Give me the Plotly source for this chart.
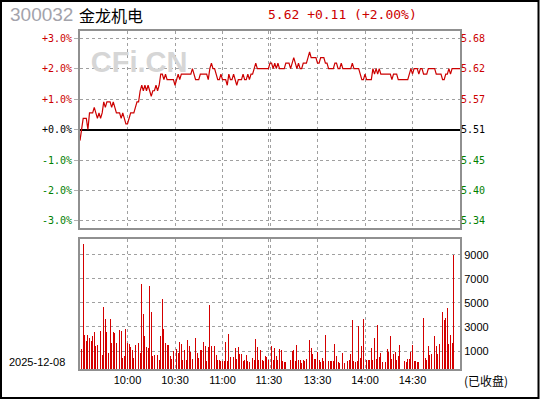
import plotly.graph_objects as go

# ---------------- data ----------------
CODE = "300032"
NAME = "金龙机电"
TRADE_DATE = "2025-12-08"
STATUS = "(已收盘)"
PREV_CLOSE = 5.51

# minute prices, index 0 = 9:30 ... 120 = 11:30/13:00 ... 240 = 15:00
PRICE = [
    5.49, 5.51, 5.53, 5.53, 5.53, 5.51, 5.54, 5.54, 5.54, 5.55,
    5.54, 5.53, 5.54, 5.53, 5.54, 5.56, 5.55, 5.56, 5.56, 5.56,
    5.55, 5.56, 5.55, 5.54, 5.54, 5.54, 5.53, 5.54, 5.53, 5.52,
    5.52, 5.53, 5.54, 5.54, 5.54, 5.55, 5.56, 5.56, 5.58, 5.59,
    5.58, 5.59, 5.58, 5.59, 5.58, 5.57, 5.58, 5.58, 5.59, 5.58,
    5.59, 5.61, 5.61, 5.60, 5.61, 5.60, 5.60, 5.60, 5.60, 5.60,
    5.59, 5.60, 5.61, 5.60, 5.61, 5.61, 5.61, 5.61, 5.61, 5.61,
    5.61, 5.62, 5.61, 5.60, 5.60, 5.60, 5.61, 5.61, 5.61, 5.61,
    5.61, 5.60, 5.62, 5.63, 5.62, 5.62, 5.61, 5.60, 5.60, 5.61,
    5.60, 5.60, 5.60, 5.59, 5.61, 5.60, 5.60, 5.61, 5.60, 5.59,
    5.60, 5.60, 5.60, 5.61, 5.60, 5.60, 5.61, 5.60, 5.61, 5.61,
    5.62, 5.63, 5.62, 5.62, 5.62, 5.62, 5.62, 5.62, 5.62, 5.62,
    5.63, 5.63, 5.62, 5.63, 5.62, 5.63, 5.62, 5.62, 5.62, 5.62,
    5.63, 5.63, 5.63, 5.62, 5.63, 5.64, 5.63, 5.62, 5.63, 5.62,
    5.62, 5.63, 5.63, 5.63, 5.64, 5.65, 5.64, 5.64, 5.64, 5.64,
    5.63, 5.63, 5.64, 5.64, 5.64, 5.63, 5.63, 5.62, 5.62, 5.62,
    5.62, 5.63, 5.63, 5.62, 5.62, 5.63, 5.62, 5.62, 5.62, 5.62,
    5.62, 5.62, 5.63, 5.62, 5.62, 5.62, 5.62, 5.61, 5.60, 5.60,
    5.61, 5.60, 5.60, 5.60, 5.60, 5.62, 5.61, 5.62, 5.61, 5.62,
    5.61, 5.61, 5.61, 5.61, 5.61, 5.61, 5.61, 5.60, 5.61, 5.61,
    5.61, 5.60, 5.60, 5.60, 5.60, 5.60, 5.60, 5.60, 5.61, 5.62,
    5.61, 5.62, 5.62, 5.62, 5.61, 5.62, 5.62, 5.61, 5.61, 5.61,
    5.62, 5.62, 5.62, 5.62, 5.62, 5.61, 5.61, 5.61, 5.61, 5.60,
    5.60, 5.61, 5.61, 5.62, 5.61, 5.62, 5.62, 5.62, 5.62, 5.62,
    5.62,
]

# minute volumes (lots), first bar = 9:31; None = no trade
VOLUME = [
    1170, 9860, 2350, 1830, 2350, 2100, 1830, 2270, 2600, 1440,
    1520, 3320, 2680, 700, 4670, 3680, 2600, 860, 3680, 1690,
    2600, 2460, 1690, 940, 2740, 2680, 450, 610, 2850, 1690,
    1580, 1360, 1110, 450, 1520, 940, 1630, 860, 6580, 4090,
    2270, 1360, 1280, 6410, 4260, 610, 700, 780, 700, 280,
    2270, 5330, 2850, 1690, 1520, 1520, 610, 370, 1030, 860,
    1190, 860, 1770, 1610, 280, 1110, 280, 1940, 1440, 940,
    370, 200, 2100, 860, 450, 1110, 1110, 1770, 1440, 200,
    1360, 4840, 1440, 1030, 1440, 700, 280, 280, 200, 200,
    200, 1770, 200, 2430, 530, 200, 530, 1280, 370, 1360,
    780, 780, 200, 280, 700, 200, 120, 2930, 450, 280,
    2020, 1360, 280, 1110, 280, 200, 610, 530, 280, 1720,
    1440, 280, 1280, 610, 280, 1190, 1110, 200, 120, 120,
    None, 2190, 280, 1030, 1110, 200, 1520, 280, 280, 30,
    280, 200, 370, 2520, 1940, 1280, 780, 370, 370, 940,
    280, 120, 450, 200, 2350, 280, 200, 200, 200, 200,
    1610, 610, 120, 30, None, 860, 30, 120, 200, 280,
    780, 3590, 200, 120, 200, 3100, 450, 1440, 3680, 2430,
    280, 280, 280, 1280, 280, 2100, 370, 3180, 530, 860,
    120, 120, 120, 1190, 940, 2270, 370, 780, 940, 280,
    610, 1520, None, 1030, 200, 120, 370, 370, 940, 1520,
    200, 200, 120, 120, None, 940, 3760, 450, 280, 1440,
    700, 780, None, 2270, 1440, 780, 1610, 610, 4260, 3590,
    3760, 4590, 1610, 2350, 1690, 8980,
]

PCT_TICKS = [3, 2, 1, 0, -1, -2, -3]
VOL_TICKS = [1000, 3000, 5000, 7000, 9000]
TIME_TICKS = [30, 60, 90, 119.3, 120.6, 150, 180, 210]
TIME_LABELS = ["10:00", "10:30", "11:00", "11:30", "", "13:30", "14:00", "14:30"]

# ---------------- styling ----------------
RED = "#cc0000"
GREEN = "#008000"
GRID = "#a0a0a0"
BORDER = "#909090"
PCT_SPAN = 3.23
VOL_MIN, VOL_MAX = -491, 10326

W, H = 540, 400
ML, MR, MT, MB = 80, 80, 31, 31
PW, PH = W - ML - MR, H - MT - MB


def fx(px):
    return (px - ML) / PW


def fy(py):
    return (H - MB - py) / PH


def colored(text, color):
    return f"<span style='color:{color}'>{text}</span>"


def sign_color(k):
    return RED if k > 0 else (GREEN if k < 0 else "black")


minutes = list(range(len(PRICE)))
bar_x = list(range(1, len(VOLUME) + 1))
bar_y = [None if v is None else v - VOL_MIN for v in VOLUME]

fig = go.Figure()

# watermark (beneath the price line)
fig.add_trace(go.Scatter(
    x=[37.3], y=[2.11], mode="text", text=["CFi.CN"],
    textfont=dict(family="Liberation Sans", size=29, color="#d6d6d6", weight="bold"),
    xaxis="x", yaxis="y", hoverinfo="skip", showlegend=False,
))

fig.add_trace(go.Scatter(
    x=minutes, y=PRICE, mode="lines",
    line=dict(color=RED, width=1.2, shape="linear"),
    xaxis="x", yaxis="y3", hoverinfo="skip", showlegend=False,
))

fig.add_trace(go.Bar(
    x=bar_x, y=bar_y, base=VOL_MIN, width=0.55,
    marker=dict(color="#d40000", line=dict(width=0)),
    xaxis="x2", yaxis="y2", hoverinfo="skip", showlegend=False,
))

price_dom = [fy(228), 1]
vol_dom = [0, fy(238.7)]

left_text = [colored(f"{k:+.1f}%", sign_color(k)) for k in PCT_TICKS]
right_vals = [PREV_CLOSE * (1 + k / 100) for k in PCT_TICKS]
right_text = [colored(f"{v:.2f}", sign_color(k)) for v, k in zip(right_vals, PCT_TICKS)]

mono = dict(family="DejaVu Sans Mono", size=10, color="black")
sans = dict(family="Liberation Sans", size=11, color="black")

fig.update_layout(
    width=W, height=H,
    margin=dict(l=ML, r=MR, t=MT, b=MB, autoexpand=False),
    paper_bgcolor="white", plot_bgcolor="white",
    showlegend=False, bargap=0,
    xaxis=dict(
        domain=[0, 1], anchor="y", range=[0, 240],
        tickvals=TIME_TICKS, showticklabels=False, ticks="",
        showgrid=True, gridcolor=GRID, griddash="dot", gridwidth=1,
        showline=True, linecolor=BORDER, linewidth=2, mirror=True,
        zeroline=False, fixedrange=True,
    ),
    yaxis=dict(
        domain=price_dom, anchor="x", range=[-PCT_SPAN, PCT_SPAN],
        tickvals=PCT_TICKS, ticktext=left_text, tickfont=mono,
        ticks="outside", ticklen=4, tickcolor="#b0b0b0", tickwidth=1,
        showgrid=True, gridcolor=GRID, griddash="dot", gridwidth=1,
        zeroline=True, zerolinecolor="black", zerolinewidth=2,
        showline=True, linecolor=BORDER, linewidth=2, mirror=True,
        fixedrange=True,
    ),
    yaxis3=dict(
        overlaying="y", side="right", anchor="x",
        range=[PREV_CLOSE * (1 - PCT_SPAN / 100), PREV_CLOSE * (1 + PCT_SPAN / 100)],
        tickvals=right_vals, ticktext=right_text, tickfont=mono,
        ticks="", showgrid=False, zeroline=False, showline=False,
        fixedrange=True,
    ),
    xaxis2=dict(
        domain=[0, 1], anchor="y2", range=[0, 240], matches="x",
        tickvals=TIME_TICKS, ticktext=TIME_LABELS, tickfont=sans, ticks="",
        showgrid=True, gridcolor=GRID, griddash="dot", gridwidth=1,
        showline=True, linecolor=BORDER, linewidth=2, mirror=True,
        zeroline=False, fixedrange=True,
    ),
    yaxis2=dict(
        domain=vol_dom, anchor="x2", side="right", range=[VOL_MIN, VOL_MAX],
        tickvals=VOL_TICKS, ticktext=[str(v) for v in VOL_TICKS], tickfont=sans,
        ticks="", showgrid=True, gridcolor=GRID, griddash="dot", gridwidth=1,
        showline=True, linecolor=BORDER, linewidth=2, mirror=True,
        zeroline=False, fixedrange=True,
    ),
)

last = PRICE[-1]
chg = last - PREV_CLOSE
pct = chg / PREV_CLOSE * 100
quote = f"{last:.2f} {chg:+.2f} ({pct:+.2f}%)"

ann = [
    dict(text=CODE, x=fx(8), y=fy(15), xanchor="left", yanchor="middle",
         font=dict(family="Liberation Sans", size=19, color="#a3a3ab")),
    dict(text=NAME, x=fx(77), y=fy(15), xanchor="left", yanchor="middle",
         font=dict(family="Noto Sans CJK SC", size=16, color="black")),
    dict(text=quote, x=fx(266), y=fy(15), xanchor="left", yanchor="middle",
         font=dict(family="DejaVu Sans Mono", size=13, color=RED)),
    dict(text=TRADE_DATE, x=fx(7), y=fy(362), xanchor="left", yanchor="middle",
         font=sans),
    dict(text=STATUS, x=fx(486), y=fy(380), xanchor="center", yanchor="middle",
         font=dict(family="Noto Sans CJK SC", size=12, color="black")),
]
for a in ann:
    a.update(xref="paper", yref="paper", showarrow=False)
fig.update_layout(annotations=ann)

fig.add_shape(type="rect", xref="paper", yref="paper",
              x0=fx(1), x1=fx(538.5), y0=fy(398), y1=fy(1),
              line=dict(color="black", width=2), fillcolor="rgba(0,0,0,0)", layer="above")

fig.write_html(
    "out.html",
    config={"displayModeBar": False, "staticPlot": True},
    post_script="document.body.style.margin='0';document.body.style.overflow='hidden';",
)
